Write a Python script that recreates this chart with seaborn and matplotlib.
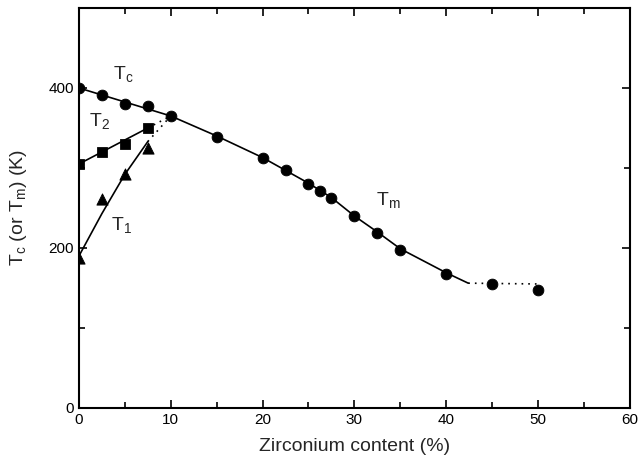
import matplotlib
matplotlib.use("Agg")
import matplotlib.pyplot as plt
import seaborn as sns
from matplotlib.ticker import MultipleLocator

# Data
tc_x = [0, 2.5, 5, 7.5, 10, 15, 20, 22.5, 25, 26.25, 27.5, 30, 32.5, 35, 40, 45, 50]
tc_y = [400, 391, 380, 377, 365, 339, 312, 297, 280, 271, 262, 240, 219, 198, 168, 155, 148]

t2_x = [0, 2.5, 5, 7.5]
t2_y = [305, 320, 330, 350]

t1_x = [0, 2.5, 5, 7.5]
t1_y = [187, 261, 293, 325]

# guide curves drawn through the points
tc_line_x = [0, 10, 15, 20, 22.5, 25, 27.5, 30, 32.5, 35, 40, 42.4]
tc_line_y = [400, 365, 340, 313, 297, 281, 263, 240, 220, 199, 169, 156]
tm_tail_x = [42.4, 50]
tm_tail_y = [156, 155]

t2_line_x = [0, 2.5, 7.5]
t2_line_y = [305, 320, 350]
t2_dot_x = [7.5, 10]
t2_dot_y = [350, 365]

t1_line_x = [0, 2.5, 5, 7.5]
t1_line_y = [190, 243, 292, 333]
t1_dot_x = [7.5, 10]
t1_dot_y = [333, 365]

sns.set_theme(style="ticks")
plt.rcParams['font.family'] = ['Liberation Sans', 'DejaVu Sans']
plt.rcParams['mathtext.fontset'] = 'custom'
plt.rcParams['mathtext.rm'] = 'Liberation Sans'

fig = plt.figure(figsize=(6.42, 4.70), dpi=100)
ax = fig.add_axes([0.123, 0.132, 0.858, 0.851])

lw = 1.2
dotted = (0, (1, 3))
def line(x, y, ls="-"):
    sns.lineplot(x=x, y=y, ax=ax, color="black", lw=lw, linestyle=ls, sort=False,
                 estimator=None, legend=False)

line(tc_line_x, tc_line_y)
line(tm_tail_x, tm_tail_y, dotted)
line(t2_line_x, t2_line_y)
line(t2_dot_x, t2_dot_y, dotted)
line(t1_line_x, t1_line_y)
line(t1_dot_x, t1_dot_y, dotted)

sns.scatterplot(x=tc_x, y=tc_y, ax=ax, marker="o", s=60, color="black", edgecolor="black", legend=False, zorder=3)
sns.scatterplot(x=t2_x, y=t2_y, ax=ax, marker="s", s=50, color="black", edgecolor="black", legend=False, zorder=3)
sns.scatterplot(x=t1_x, y=t1_y, ax=ax, marker="^", s=65, color="black", edgecolor="black", legend=False, zorder=3)

ax.set_xlim(0, 60)
ax.set_ylim(0, 500)
ax.xaxis.set_major_locator(MultipleLocator(10))
ax.xaxis.set_minor_locator(MultipleLocator(5))
ax.yaxis.set_major_locator(MultipleLocator(200))
ax.yaxis.set_minor_locator(MultipleLocator(100))
ax.tick_params(which="both", direction="in", top=True, right=True, labelsize=11, colors="black", width=1.2)
ax.tick_params(which="major", length=6)
ax.tick_params(which="minor", length=4)
for sp in ax.spines.values():
    sp.set_linewidth(1.5)
    sp.set_color("black")

ax.set_xlabel("Zirconium content (%)", fontsize=14, labelpad=8)
ax.set_ylabel(r"T$_\mathregular{c}$ (or T$_\mathregular{m}$) (K)", fontsize=14, labelpad=14)

fs = 14
ax.text(4.8, 404, r"T$_\mathregular{c}$", fontsize=fs, ha="center", va="bottom")
ax.text(2.2, 345, r"T$_\mathregular{2}$", fontsize=fs, ha="center", va="bottom")
ax.text(4.6, 215, r"T$_\mathregular{1}$", fontsize=fs, ha="center", va="bottom")
ax.text(33.7, 246, r"T$_\mathregular{m}$", fontsize=fs, ha="center", va="bottom")

fig.savefig("out.png", dpi=100)
